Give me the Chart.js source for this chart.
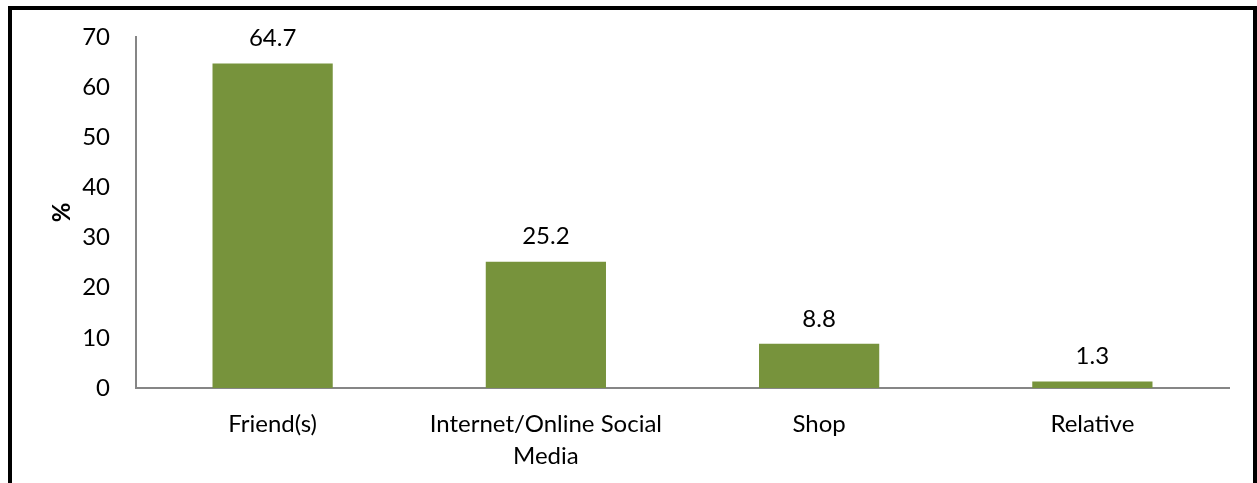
<!DOCTYPE html>
<html>
<head>
<meta charset="utf-8">
<script src="https://cdn.jsdelivr.net/npm/chart.js@4"></script>
<style>
  html, body { margin: 0; padding: 0; background: #fff; }
  #wrap { position: relative; width: 1257px; height: 483px; overflow: hidden; }
  #frame { position: absolute; left: 8px; top: 6px; width: 1241px; height: 520px;
           border: 4px solid #000; pointer-events: none; }
  canvas { position: absolute; left: 0; top: 0; }
</style>
</head>
<body>
<div id="wrap">
  <canvas id="barChart" width="1257" height="483"></canvas>
  <div id="frame"></div>
</div>
<script>
var categories = ['Friend(s)', ['Internet/Online Social', 'Media'], 'Shop', 'Relative'];
var percentages = [64.7, 25.2, 8.8, 1.3];
var yTicks = [0, 10, 20, 30, 40, 50, 60, 70];

var fontFamily = 'Lato, "Open Sans", sans-serif';
var fontSize = 24;

// writes each bar's value above it
var valueLabels = {
	id: 'valueLabels',
	afterDatasetsDraw: function(chart) {
		var ctx = chart.ctx;
		var meta = chart.getDatasetMeta(0);
		ctx.save();
		ctx.font = fontSize + 'px ' + fontFamily;
		ctx.fillStyle = '#000';
		ctx.textAlign = 'center';
		ctx.textBaseline = 'middle';
		meta.data.forEach(function(bar, i) {
			ctx.fillText(percentages[i].toFixed(1), bar.x, bar.y - 25);
		});
		ctx.restore();
	}
};

var ctx = document.getElementById('barChart').getContext('2d');
var barChart = new Chart(ctx, {
	type: 'bar',
	data: {
		labels: categories,
		datasets: [{
			label: '%',
			data: percentages,
			backgroundColor: '#77933C',
			borderWidth: 0,
			barPercentage: 0.44,
			categoryPercentage: 1
		}]
	},
	options: {
		responsive: false,
		animation: false,
		layout: {
			padding: { top: 37, right: 28, left: 0, bottom: 0 }
		},
		plugins: {
			legend: { display: false },
			tooltip: { enabled: false }
		},
		scales: {
			x: {
				grid: { display: false, drawTicks: false },
				border: { display: true, color: '#868686', width: 2 },
				ticks: {
					color: '#000',
					padding: 21,
					font: { family: fontFamily, size: fontSize, lineHeight: 1.3 },
					maxRotation: 0,
					autoSkip: false
				},
				afterFit: function(scale) {
					scale.height = 95;
					scale.paddingLeft = 0;
					scale.paddingRight = 0;
				}
			},
			y: {
				min: 0,
				max: 70,
				afterBuildTicks: function(scale) {
					scale.ticks = yTicks.map(function(v) { return { value: v }; });
				},
				grid: { display: false, drawTicks: false },
				border: { display: true, color: '#868686', width: 2 },
				ticks: {
					color: '#000',
					padding: 26,
					font: { family: fontFamily, size: fontSize }
				},
				title: {
					display: true,
					text: '%',
					color: '#000',
					font: { family: fontFamily, size: fontSize, weight: 'bold' },
					padding: { top: 48, bottom: 0 }
				},
				afterFit: function(scale) {
					// fixed axis width, no extra room for the end labels
					scale.width = 136;
					scale.paddingTop = 0;
					scale.paddingBottom = 0;
				}
			}
		}
	},
	plugins: [valueLabels]
});
</script>
</body>
</html>
